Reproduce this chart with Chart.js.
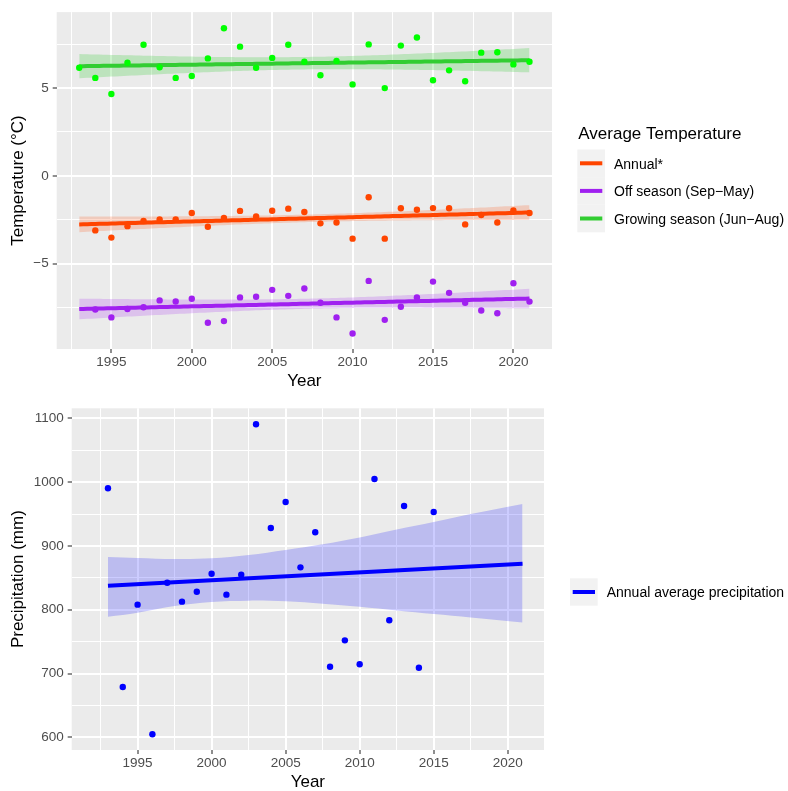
<!DOCTYPE html>
<html><head><meta charset="utf-8">
<script src="https://cdn.jsdelivr.net/npm/chart.js@4.4.0/dist/chart.umd.min.js"></script>
<style>
html,body{margin:0;padding:0;background:#fff;width:788px;height:791px;overflow:hidden;}
canvas{position:absolute;left:0;display:block;}
#c1{top:0;}
#c2{top:395px;}
</style></head><body>
<canvas id="c1" width="788" height="395"></canvas>
<canvas id="c2" width="788" height="396"></canvas>
<script>
// ---------- data ----------
const years = [1993,1994,1995,1996,1997,1998,1999,2000,2001,2002,2003,2004,2005,2006,2007,2008,2009,2010,2011,2012,2013,2014,2015,2016,2017,2018,2019,2020,2021];
const annualTemp = [null,-3.11,-3.52,-2.87,-2.57,-2.49,-2.49,-2.12,-2.90,-2.40,-2.00,-2.32,-1.99,-1.87,-2.06,-2.71,-2.66,-3.58,-1.22,-3.58,-1.85,-1.93,-1.84,-1.85,-2.77,-2.23,-2.66,-1.97,-2.12];
const offSeasonTemp = [null,-7.62,-8.07,-7.59,-7.49,-7.10,-7.16,-7.01,-8.37,-8.28,-6.93,-6.89,-6.50,-6.84,-6.42,-7.23,-8.07,-8.99,-5.99,-8.21,-7.46,-6.93,-6.03,-6.67,-7.23,-7.68,-7.83,-6.12,-7.17];
const growingTemp = [6.16,5.58,4.66,6.44,7.47,6.18,5.58,5.69,6.69,8.41,7.36,6.16,6.72,7.47,6.50,5.73,6.55,5.21,7.49,5.00,7.42,7.88,5.45,6.01,5.39,7.02,7.04,6.35,6.50];
const precipYears = [1993,1994,1995,1996,1997,1998,1999,2000,2001,2002,2003,2004,2005,2006,2007,2008,2009,2010,2011,2012,2013,2014,2015];
const precipitation = [990.3,678.8,807.9,604.7,842.3,812.6,828.2,856.4,823.6,854.9,1090.6,928.1,968.8,866.4,921.3,710.7,752.0,714.4,1004.9,783.4,962.5,709.1,953.1];
// precipitation trend line and its confidence band
const precipTrendYears = [1993,2021];
const precipTrend = [837.4,872.1];
const precipBandYears = [1993,1995,1997.5,2000,2002.5,2005,2007.5,2010,2012.5,2015,2017.5,2021];
const precipBandUpper = [882.6,881.1,879.5,880.5,885.8,893.7,902.6,913.2,925.8,937.4,950.0,965.8];
const precipBandLower = [788.9,795.3,805.8,812.1,814.2,813.2,809.5,804.7,798.9,793.2,787.9,780.0];
const tempSeriesNames = ['Annual*','Off season (Sep\u2212May)','Growing season (Jun\u2212Aug)'];
const precipSeriesNames = ['Annual average precipitation'];
const tempLegendTitle = 'Average Temperature';
const yearTicks = [1995,2000,2005,2010,2015,2020];
const tempTicks = [-5,0,5];
const precipTicks = [600,700,800,900,1000,1100];

// ---------- linear model smoother (like geom_smooth(method = "lm")) ----------
function tQuantile975(df){
  const z=1.959963985, z3=z*z*z, z5=z3*z*z, z7=z5*z*z;
  return z+(z3+z)/(4*df)+(5*z5+16*z3+3*z)/(96*df*df)+(3*z7+19*z5+17*z3-15*z)/(384*df*df*df);
}
function fitLm(xs, ys, step){
  const p=[]; xs.forEach((x,i)=>{ if(ys[i]!=null) p.push([x,ys[i]]); });
  const n=p.length;
  const mx=p.reduce((s,q)=>s+q[0],0)/n, my=p.reduce((s,q)=>s+q[1],0)/n;
  let sxx=0,sxy=0; p.forEach(q=>{sxx+=(q[0]-mx)**2; sxy+=(q[0]-mx)*(q[1]-my);});
  const b=sxy/sxx, a=my-b*mx;
  let sse=0; p.forEach(q=>{sse+=(q[1]-a-b*q[0])**2;});
  const s=Math.sqrt(sse/(n-2)), t=tQuantile975(n-2);
  const from=xs[0], to=xs[xs.length-1];
  const line=[],upper=[],lower=[];
  for(let x=from; x<=to+1e-9; x+=step){
    const f=a+b*x, h=t*s*Math.sqrt(1/n+(x-mx)**2/sxx);
    line.push({x,y:f}); upper.push({x,y:f+h}); lower.push({x,y:f-h});
  }
  return {line,upper,lower};
}
function pts(xs, ys){ const r=[]; xs.forEach((x,i)=>{ if(ys[i]!=null) r.push({x,y:ys[i]}); }); return r; }

// ---------- styling helpers ----------
const FONT='"Liberation Sans", Arial, Helvetica, sans-serif';
const fmt=v=> v<0 ? '\u2212'+Math.abs(v) : String(v);
const POINT_R=3.2, LINE_W=4;

function ggAxis(o){
  const isMajor=v=>o.majors.some(m=>Math.abs(m-v)<1e-6);
  return {
    type:'linear', min:o.min, max:o.max,
    afterBuildTicks(scale){
      const t=[]; const start=Math.ceil(o.min/o.minorStep-1e-9)*o.minorStep;
      for(let v=start; v<=o.max+1e-9; v+=o.minorStep) t.push({value:Math.round(v*1000)/1000});
      scale.ticks=t;
    },
    afterFit(scale){ if(o.isX) scale.height=o.size; else scale.width=o.size; },
    border:{display:false},
    grid:{
      color:'#FFFFFF',
      lineWidth:c=> (c.tick && isMajor(c.tick.value)) ? 2 : 1,
      drawTicks:true, tickLength:4,
      tickColor:c=> (c.tick && isMajor(c.tick.value)) ? '#333333' : 'rgba(0,0,0,0)',
      tickWidth:1.1
    },
    ticks:{
      autoSkip:false, maxRotation:0, minRotation:0,
      padding:o.tickPad, color:'#4D4D4D',
      font:{family:FONT, size:13.5},
      callback:v=> isMajor(v) ? fmt(v) : ''
    },
    title:{display:true, text:o.title, color:'#000000',
      font:{family:FONT, size:17, lineHeight:1},
      padding:o.isX ? {top:0,bottom:o.titlePad} : {top:o.titlePad,bottom:0}}
  };
}

const panelBg={id:'panelBg', beforeDraw(chart){
  const {ctx,chartArea:a}=chart; ctx.save(); ctx.fillStyle='#EBEBEB';
  ctx.fillRect(a.left,a.top,a.right-a.left,a.bottom-a.top); ctx.restore();
}};
const ggLegend={id:'ggLegend', afterDraw(chart,args,o){
  if(!o || !o.labels) return;
  const ctx=chart.ctx; ctx.save();
  ctx.textAlign='left'; ctx.textBaseline='alphabetic';
  if(o.title){ ctx.fillStyle='#000'; ctx.font='17px '+FONT; ctx.fillText(o.title,o.titleX,o.titleY); }
  o.labels.forEach((lab,i)=>{
    const y0=o.keyY+i*o.keyH, yc=y0+o.keyH/2;
    ctx.fillStyle='#F2F2F2'; ctx.fillRect(o.keyX,y0,o.keyW,o.keyH);
    ctx.strokeStyle=o.colors[i]; ctx.lineWidth=4; ctx.lineCap='butt';
    ctx.beginPath(); ctx.moveTo(o.keyX+2.7,yc); ctx.lineTo(o.keyX+o.keyW-2.7,yc); ctx.stroke();
    ctx.fillStyle='#000'; ctx.font='14px '+FONT; ctx.fillText(lab,o.textX,yc+o.textDy);
  });
  ctx.restore();
}};

function smoothDatasets(fit, lineColor, bandColor, tension){
  return [
    {type:'line', data:fit.upper, fill:'+1', backgroundColor:bandColor, borderWidth:0, pointRadius:0, tension:tension||0, order:2},
    {type:'line', data:fit.lower, fill:false, borderWidth:0, pointRadius:0, tension:tension||0, order:2},
    {type:'line', data:fit.line, fill:false, borderColor:lineColor, borderWidth:LINE_W, pointRadius:0, order:1}
  ];
}
function pointDataset(xs, ys, color){
  return {type:'scatter', data:pts(xs,ys), backgroundColor:color, borderWidth:0, pointRadius:POINT_R, order:0};
}

// ---------- top: temperature ----------
const tempColors={
  annual:{pt:'#FF4500', ln:'#FF4500', band:'rgba(255,69,0,0.2)'},
  off:{pt:'#A020F0', ln:'#A020F0', band:'rgba(160,32,240,0.2)'},
  grow:{pt:'#00FF00', ln:'#32CD32', band:'rgba(50,205,50,0.25)'}
};
new Chart(document.getElementById('c1'),{
  type:'scatter',
  data:{datasets:[
    ...smoothDatasets(fitLm(years, growingTemp, 0.25), tempColors.grow.ln, tempColors.grow.band),
    ...smoothDatasets(fitLm(years, annualTemp, 0.25), tempColors.annual.ln, tempColors.annual.band),
    ...smoothDatasets(fitLm(years, offSeasonTemp, 0.25), tempColors.off.ln, tempColors.off.band),
    pointDataset(years, growingTemp, tempColors.grow.pt),
    pointDataset(years, annualTemp, tempColors.annual.pt),
    pointDataset(years, offSeasonTemp, tempColors.off.pt)
  ]},
  options:{
    responsive:false, animation:false, devicePixelRatio:1,
    layout:{padding:{left:0, top:7.3, right:236, bottom:0}},
    scales:{
      x:ggAxis({isX:true, min:1991.6, max:2022.4, majors:yearTicks, minorStep:2.5, size:46, tickPad:1, title:'Year', titlePad:5.4}),
      y:ggAxis({isX:false, min:-9.87, max:9.33, majors:tempTicks, minorStep:2.5, size:56.7, tickPad:4, title:'Temperature (\u00B0C)', titlePad:9.5})
    },
    plugins:{
      legend:{display:false}, tooltip:{enabled:false},
      ggLegend:{title:tempLegendTitle, titleX:578.3, titleY:139.3,
        labels:tempSeriesNames, colors:[tempColors.annual.ln, tempColors.off.ln, tempColors.grow.ln],
        keyX:577.3, keyY:149.5, keyW:27.7, keyH:27.6, textX:614, textDy:5.5}
    }
  },
  plugins:[panelBg, ggLegend]
});

// ---------- bottom: precipitation ----------
const precipSmooth={
  line:pts(precipTrendYears, precipTrend),
  upper:pts(precipBandYears, precipBandUpper),
  lower:pts(precipBandYears, precipBandLower)
};
new Chart(document.getElementById('c2'),{
  type:'scatter',
  data:{datasets:[
    ...smoothDatasets(precipSmooth, '#0000FF', 'rgba(0,0,255,0.2)', 0.35),
    pointDataset(precipYears, precipitation, '#0000FF')
  ]},
  options:{
    responsive:false, animation:false, devicePixelRatio:1,
    layout:{padding:{left:0, top:13.3, right:244, bottom:0}},
    scales:{
      x:ggAxis({isX:true, min:1990.55, max:2022.45, majors:yearTicks, minorStep:2.5, size:41, tickPad:1, title:'Year', titlePad:0.4}),
      y:ggAxis({isX:false, min:580.1, max:1115.7, majors:precipTicks, minorStep:50, size:71.7, tickPad:4, title:'Precipitation (mm)', titlePad:9.5})
    },
    plugins:{
      legend:{display:false}, tooltip:{enabled:false},
      ggLegend:{labels:precipSeriesNames, colors:['#0000FF'],
        keyX:570, keyY:183.3, keyW:27.7, keyH:27.4, textX:606.7, textDy:5}
    }
  },
  plugins:[panelBg, ggLegend]
});
</script>
</body></html>
